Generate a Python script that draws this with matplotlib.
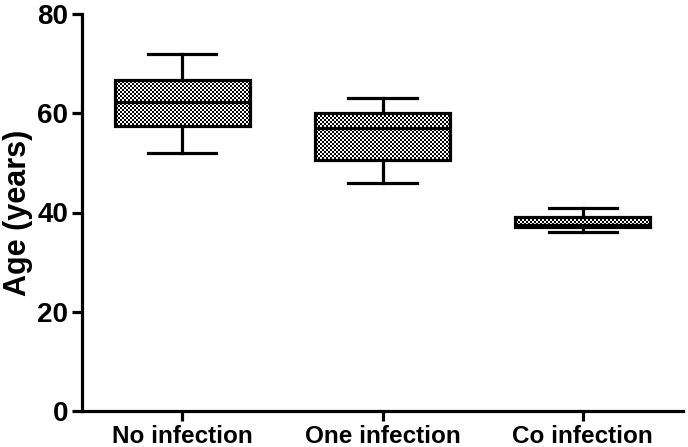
import matplotlib
matplotlib.use("Agg")
import matplotlib.pyplot as plt
import numpy as np

categories = ["No infection", "One infection", "Co infection"]
whisker_low = [52, 46, 36]
q1 = [57.5, 50.6, 37.0]
median = [62.2, 57.0, 37.5]
q3 = [66.6, 60.0, 39.0]
whisker_high = [72, 63, 41]
y_ticks = [0, 20, 40, 60, 80]

plt.rcParams['font.family'] = ['Liberation Sans', 'DejaVu Sans']

fig = plt.figure(figsize=(6.88, 4.47), dpi=100)
ax = fig.add_axes([82/688, 36/447, (683-82)/688, (411-14)/447])

stats = []
for i, c in enumerate(categories):
    stats.append(dict(label=c, whislo=whisker_low[i], q1=q1[i], med=median[i],
                      q3=q3[i], whishi=whisker_high[i], fliers=[]))

lw = 2.3
bp = ax.bxp(stats, positions=[1, 2, 3], widths=0.675, capwidths=0.34,
            patch_artist=True, showfliers=False,
            boxprops=dict(facecolor='none', edgecolor='black', linewidth=lw),
            medianprops=dict(color='black', linewidth=lw),
            whiskerprops=dict(color='black', linewidth=lw),
            capprops=dict(color='black', linewidth=lw))

ax.set_xlim(0.5, 3.5)
ax.set_ylim(0, 80)

# checkered fill texture (2 px squares), clipped to each box
H, W = 397, 601
ii, jj = np.mgrid[0:H, 0:W]
checker = ((ii // 2 + jj // 2) % 2).astype(float)
for patch in bp['boxes']:
    im = ax.imshow(checker, cmap='gray', vmin=0, vmax=1, extent=(0.5, 3.5, 0, 80),
                   aspect='auto', interpolation='nearest', origin='lower', zorder=1.5)
    im.set_clip_path(patch)
ax.set_xlim(0.5, 3.5)
ax.set_ylim(0, 80)

ax.set_yticks(y_ticks)
ax.set_yticklabels([str(t) for t in y_ticks], fontsize=20, fontweight='bold')
ax.set_xticks([1, 2, 3])
ax.set_xticklabels(categories, fontsize=17.5, fontweight='bold')
ax.set_ylabel("Age (years)", fontsize=22, fontweight='bold', labelpad=3)

for s in ['top', 'right']:
    ax.spines[s].set_visible(False)
for s in ['left', 'bottom']:
    ax.spines[s].set_linewidth(2.3)
ax.tick_params(axis='both', width=2.3, length=7, pad=3)

fig.savefig("out.png", dpi=100)
